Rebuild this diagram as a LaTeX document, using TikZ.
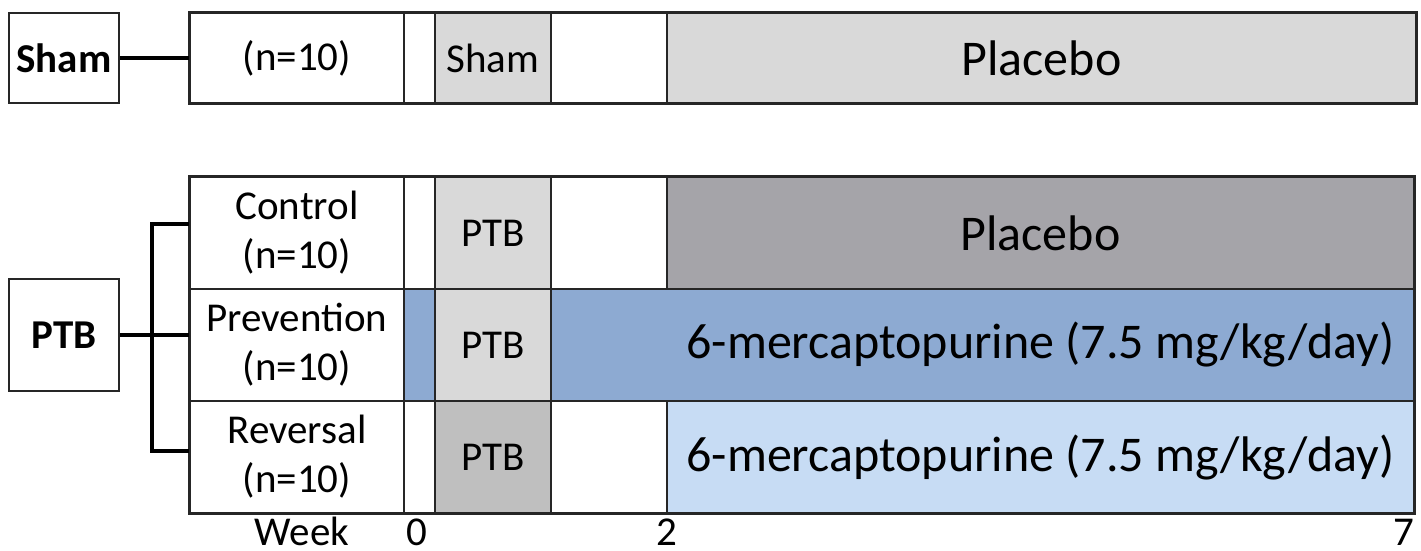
\documentclass[tikz,border=0pt]{standalone}
\usepackage{fontspec}
\setmainfont{Carlito}
\definecolor{lightgrey}{HTML}{D9D9D9}
\definecolor{darkgrey}{HTML}{A5A4A9}
\definecolor{midgrey}{HTML}{BFBFBF}
\definecolor{drugblue}{HTML}{8DAAD2}
\definecolor{paleblue}{HTML}{C7DCF4}
\begin{document}
\begin{tikzpicture}[x=1pt,y=-1pt,
  cell/.style={draw=black!85, line width=1.2pt, inner sep=0pt, fill=white},
  small/.style={font=\fontsize{41}{49}\selectfont, align=center},
  big/.style={font=\fontsize{50}{60}\selectfont},
  group/.style={draw=black!85, line width=1.6pt, inner sep=0pt, minimum width=110pt,
    font=\fontsize{41}{49}\selectfont\bfseries},
  frame/.style={draw=black!85, line width=2pt},
  link/.style={draw=black, line width=4pt},
  axis/.style={font=\fontsize{41}{49}\selectfont, anchor=base, inner sep=0pt}]
\useasboundingbox (0,0) rectangle (1421,550);

% ---- Sham arm ----
\node[group, minimum height=90pt] (shamBox) at (64,58) {Sham};
\node[cell, small, minimum width=214pt, minimum height=90pt] (shamN) at (297,58) {(n=10)};
\node[cell, minimum width=31pt, minimum height=90pt] (shamPre) at (419.5,58) {};
\node[cell, small, fill=lightgrey, minimum width=116pt, minimum height=90pt] (shamOp) at (493,58) {Sham};
\node[cell, minimum width=116pt, minimum height=90pt] (shamGap) at (609,58) {};
\node[cell, big, fill=lightgrey, minimum width=749pt, minimum height=90pt] (shamDrug) at (1041.5,58) {Placebo};
\draw[frame] (shamN.north west) rectangle (shamDrug.south east);
\draw[link] (shamBox.east) -- (shamN.west);

% ---- PTB arms ----
% Control
\node[cell, small, minimum width=214pt, minimum height=112pt] (ctrl) at (297,233) {Control\\(n=10)};
\node[cell, minimum width=31pt, minimum height=112pt] (ctrlPre) at (419.5,233) {};
\node[cell, small, fill=lightgrey, minimum width=116pt, minimum height=112pt] (ctrlOp) at (493,233) {PTB};
\node[cell, minimum width=116pt, minimum height=112pt] (ctrlGap) at (609,233) {};
\node[cell, big, fill=darkgrey, minimum width=747pt, minimum height=112pt] (ctrlDrug) at (1040.5,233) {Placebo};
% Prevention
\node[cell, small, minimum width=214pt, minimum height=112pt] (prev) at (297,345) {Prevention\\(n=10)};
\node[cell, fill=drugblue, minimum width=31pt, minimum height=112pt] (prevPre) at (419.5,345) {};
\node[cell, small, fill=lightgrey, minimum width=116pt, minimum height=112pt] (prevOp) at (493,345) {PTB};
\node[cell, fill=drugblue, minimum width=863pt, minimum height=112pt] (prevDrug) at (982.5,345) {};
\node[big] (prevText) at (1040.5,345) {6-mercaptopurine (7.5 mg/kg/day)};
% Reversal
\node[cell, small, minimum width=214pt, minimum height=112pt] (rev) at (297,457) {Reversal\\(n=10)};
\node[cell, minimum width=31pt, minimum height=112pt] (revPre) at (419.5,457) {};
\node[cell, small, fill=midgrey, minimum width=116pt, minimum height=112pt] (revOp) at (493,457) {PTB};
\node[cell, minimum width=116pt, minimum height=112pt] (revGap) at (609,457) {};
\node[cell, big, fill=paleblue, minimum width=747pt, minimum height=112pt] (revDrug) at (1040.5,457) {6-mercaptopurine (7.5 mg/kg/day)};
\draw[frame] (ctrl.north west) rectangle (revDrug.south east);

% group box and bracket
\node[group, minimum height=112pt] (ptbBox) at (64,335) {PTB};
\coordinate (brTop) at (152,224);
\coordinate (brMid) at (152,335);
\coordinate (brBot) at (152,451);
\draw[link, line cap=rect] (brTop) -- (brBot);
\draw[link] (brTop) -- (ctrl.west |- brTop);
\draw[link] (ptbBox.east) -- (prev.west |- brMid);
\draw[link] (brBot) -- (rev.west |- brBot);

% time axis
\node[axis] (wk) at (302,545) {Week};
\node[axis] (w0) at (417,545) {0};
\node[axis] (w2) at (667,545) {2};
\node[axis] (w7) at (1404,545) {7};
\end{tikzpicture}
\end{document}
